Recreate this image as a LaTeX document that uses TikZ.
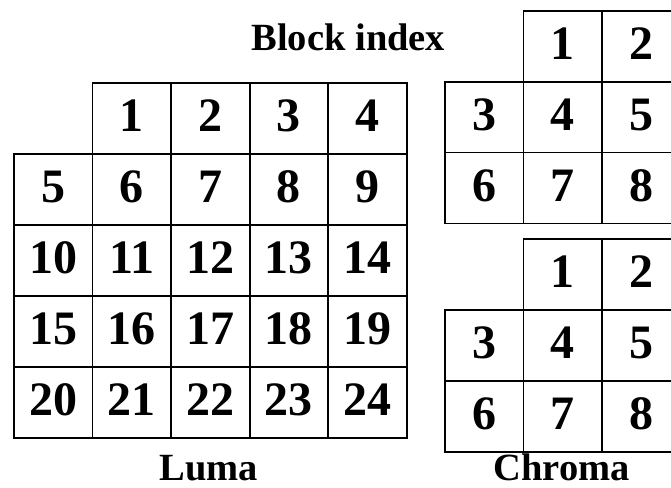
\documentclass[tikz,border=0pt]{standalone}
\usepackage{fontspec}
\setmainfont{Liberation Serif}
\usetikzlibrary{positioning}

\begin{document}
\begin{tikzpicture}[
  x=1pt, y=-1pt,
  font=\bfseries,
  cell/.style={draw, line width=1.7pt, minimum width=78.5pt, minimum height=70.8pt,
               inner sep=0pt, text height=48.5pt, text depth=22.3pt,
               font=\fontsize{48}{48}\selectfont\bfseries},
  caption/.style={anchor=base, inner sep=0pt, font=\fontsize{38.5}{38.5}\selectfont\bfseries}
]
\useasboundingbox (0,0) rectangle (671,487);

% Luma blocks: top row starts one column in
\foreach \c in {1,...,4}
  \node[cell] (l\c) at ({14+78.55*(\c+0.5)},{83.3+70.88*0.5}) {\c};
\foreach \r in {1,...,4}
  \foreach \c in {0,...,4} {
    \pgfmathtruncatemacro{\n}{5*\r+\c}
    \node[cell] (l\n) at ({14+78.55*(\c+0.5)},{83.3+70.88*(\r+0.5)}) {\n};
  }

% Chroma blocks, two planes
\foreach \pl/\top in {ca/11, cb/239.3} {
  \foreach \c in {1,2}
    \node[cell] (\pl\c) at ({445+78.5*(\c+0.5)},{\top+70.8*0.5}) {\c};
  \foreach \r in {1,2}
    \foreach \c in {0,1,2} {
      \pgfmathtruncatemacro{\n}{3*\r+\c}
      \node[cell] (\pl\n) at ({445+78.5*(\c+0.5)},{\top+70.8*(\r+0.5)}) {\n};
    }
}

% Captions
\node[caption] (title) at (348.4,51) {Block index};
\node[caption] (luma) at (209,480) {Luma};
\node[caption] (chroma) at (561.5,480) {Chroma};

\end{tikzpicture}
\end{document}
